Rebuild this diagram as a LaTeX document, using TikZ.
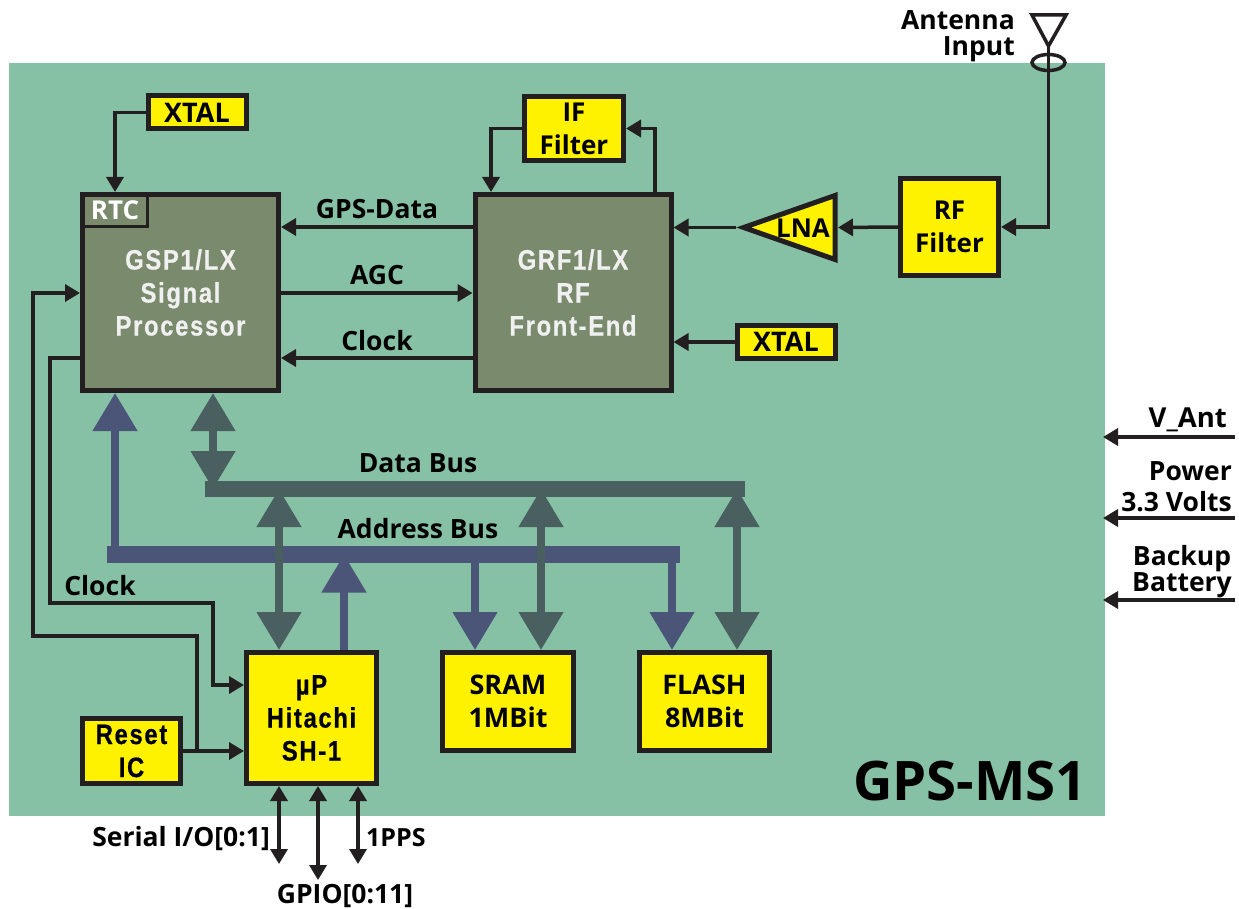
\documentclass[tikz,border=0pt]{standalone}
\usepackage{fontspec}
\usetikzlibrary{arrows.meta,shapes.geometric}
\newfontfamily\opb{Open Sans}
\newfontfamily\libs[LetterSpace=6,FakeStretch=0.85,BoldFeatures={FakeBold=0.6}]{Liberation Sans}
\definecolor{bgc}{HTML}{86C1A5}
\definecolor{chipc}{HTML}{7A8A6D}
\definecolor{datac}{HTML}{4A6060}
\definecolor{addrc}{HTML}{4B5578}
\definecolor{inkc}{HTML}{231F20}
\tikzset{
 x=1pt,y=-1pt,
 box/.style={draw=inkc,line width=5pt,fill=#1,inner sep=0pt,align=center,miter limit=10},
 box/.default={yellow},
 opf/.style={font=\opb\bfseries\fontsize{#1}{33}\selectfont},
 opf/.default={26},
 lif/.style={font=\libs\bfseries\fontsize{28}{33}\selectfont},
 lab/.style={inner sep=0pt,text=black,opf=26.5},
 rlab/.style={inner sep=0pt,text=black,align=#1,font=\opb\bfseries\fontsize{26.5}{26}\selectfont},
 conn/.style={draw=inkc,line width=3.5pt},
 sig/.style={conn,-{Triangle[width=17pt,length=15pt]}},
 sigb/.style={conn,{Triangle[width=17pt,length=15pt]}-{Triangle[width=17pt,length=15pt]}},
 dbarrow/.style={draw=datac,line width=8pt,{Triangle[width=43pt,length=38pt]}-{Triangle[width=43pt,length=38pt]}},
 abarrow/.style={draw=addrc,line width=8pt,-{Triangle[width=43pt,length=38pt]}},
}
\begin{document}
\begin{tikzpicture}
\useasboundingbox (0,0) rectangle (1239,909);
\node[fill=bgc,inner sep=0pt,minimum width=1096pt,minimum height=753pt] (bg) at (557,439.5) {};

% boxes
\node[box=chipc,minimum width=196pt,minimum height=196pt,text=white!94!black,lif] (gsp) at (180.5,292.5) {GSP1/LX\\Signal\\Processor};
\node[draw=inkc,line width=3pt,fill=chipc,inner sep=0pt,minimum width=65pt,minimum height=32pt,text=white,font=\opb\bfseries\fontsize{26}{28}\selectfont] (rtc) at (115,210.5) {RTC};
\draw[draw=inkc,line width=5pt] (gsp.north west) ++(2.5,2.5) rectangle ([xshift=-2.5pt,yshift=2.5pt]gsp.south east);
\node[box=chipc,minimum width=196pt,minimum height=196pt,text=white!94!black,lif] (grf) at (573,292.5) {GRF1/LX\\RF\\Front-End};
\node[box,minimum width=98pt,minimum height=33pt,opf=27] (xtala) at (197,112.5) {XTAL};
\node[box,minimum width=98pt,minimum height=33pt,opf=27] (xtalb) at (786,342) {XTAL};
\node[box,minimum width=99pt,minimum height=64pt,opf=26] (iff) at (574,128.5) {IF\\Filter};
\node[box,minimum width=98pt,minimum height=97pt,opf=26] (rff) at (949.5,227) {RF\\Filter};
\node[box,minimum width=130pt,minimum height=131pt,lif] (up) at (311.5,718) {\textmu P\\Hitachi\\SH-1};
\node[box,minimum width=98pt,minimum height=65pt,lif] (rst) at (131.5,751) {Reset\\IC};
\node[box,minimum width=131pt,minimum height=98pt,opf=27] (sram) at (508,701.5) {SRAM\\1MBit};
\node[box,minimum width=130pt,minimum height=98pt,opf=27] (flash) at (704.5,701.5) {FLASH\\8MBit};

% LNA
\coordinate (lnatip) at (736,227.5);
\coordinate (lnaend) at (838,227.5);
\draw[draw=inkc,line width=5pt,fill=yellow,miter limit=10] (743.7,227.5) -- (835,195.5) -- (835,259.5) -- cycle;
\node[inner sep=0pt,opf=26] (lna) at (803,228) {LNA};

% antenna
\draw[draw=inkc,line width=3.5pt,miter limit=10] (1032,15) -- (1066,15) -- (1048.5,46) -- cycle;
\node[draw=inkc,line width=3.5pt,ellipse,minimum width=33pt,minimum height=16pt,inner sep=0pt] (ant) at (1048.5,62.5) {};
\coordinate (anttop) at (1048.5,44);

% buses
\node[fill=addrc,inner sep=0pt,minimum width=573pt,minimum height=17pt] (abus) at (393.5,554.5) {};
\node[fill=datac,inner sep=0pt,minimum width=540pt,minimum height=16pt] (dbus) at (475,489) {};

% bus arrows
\draw[abarrow] (115,0 |- abus.center) -- (115,0 |- gsp.south);
\draw[abarrow] (344,0 |- up.north) -- (344,0 |- abus.center);
\draw[abarrow] (475,0 |- abus.center) -- (475,0 |- sram.north);
\draw[abarrow] (672,0 |- abus.center) -- (672,0 |- flash.north);
\draw[dbarrow] (213,0 |- gsp.south) -- (213,0 |- dbus.center);
\draw[dbarrow] (279,0 |- dbus.center) -- (279,0 |- up.north);
\draw[dbarrow] (541,0 |- dbus.center) -- (541,0 |- sram.north);
\draw[dbarrow] (737,0 |- dbus.center) -- (737,0 |- flash.north);

% thin connectors
\draw[sig] (xtala.west) -| (115,0 |- gsp.north);
\draw[sig] (grf.west |- 0,227) -- (gsp.east |- 0,227);
\draw[sig] (gsp.east |- 0,293) -- (grf.west |- 0,293);
\draw[sig] (grf.west |- 0,358) -- (gsp.east |- 0,358);
\draw[sig] (lnatip) -- (grf.east |- lnatip);
\draw[sig] (rff.west) -- (lnaend);
\draw[conn] (anttop) -- (ant.center);
\draw[sig] (ant.center) |- (rff.east);
\draw[sig] (xtalb.west) -- (grf.east |- xtalb.west);
\draw[sig] (iff.west) -| (491,0 |- grf.north);
\draw[sig] (655,0 |- grf.north) |- (iff.east);
\draw[sig] (gsp.west |- 0,358) -| (50,603) -| (213,685) -- (up.west |- 0,685);
\draw[sig] (rst.east) -- (up.west |- rst.east);
\coordinate (rstjoin) at (197,0 |- rst.east);
\draw[sig] (rstjoin) |- (33,636) |- (gsp.west |- 0,293);

% bottom I/O
\coordinate (ioa) at (279,864);
\coordinate (iob) at (318,880);
\coordinate (ioc) at (358,864);
\draw[sigb] (279,0 |- up.south) -- (ioa);
\draw[sigb] (318,0 |- up.south) -- (iob);
\draw[sigb] (358,0 |- up.south) -- (ioc);

% right inputs
\coordinate (ina) at (1235,437);
\coordinate (inb) at (1235,518);
\coordinate (inc) at (1235,600);
\coordinate (bgr) at (1103,0);
\draw[sig] (ina) -- (bgr |- ina);
\draw[sig] (inb) -- (bgr |- inb);
\draw[sig] (inc) -- (bgr |- inc);

% labels
\node[lab] (lgps) at (377,209) {GPS-Data};
\node[lab] (lagc) at (377,275) {AGC};
\node[lab] (lclk) at (377,341) {Clock};
\node[lab] (ldat) at (418,463) {Data Bus};
\node[lab] (ladr) at (418,529) {Address Bus};
\node[lab] (lcl2) at (100,586) {Clock};
\node[lab,anchor=east] (lser) at (270,839) {Serial I/O[0:1]};
\node[lab,anchor=west,opf=25] (lpps) at (366,838) {1PPS};
\node[lab] (lgpio) at (345,896) {GPIO[0:11]};
\node[rlab=right,anchor=east] (lant) at (1015,36) {Antenna\\Input};
\node[rlab=right,anchor=east,font=\opb\bfseries\fontsize{27.5}{26}\selectfont] (lva) at (1227,420) {V\_Ant};
\node[rlab=right,anchor=east,font=\opb\bfseries\fontsize{26.5}{31}\selectfont] (lpw) at (1232,487) {Power\\3.3 Volts};
\node[rlab=center,anchor=east] (lbk) at (1232,572) {Backup\\Battery};
\node[inner sep=0pt,anchor=east,font=\opb\bfseries\fontsize{54.5}{60}\selectfont] (ltitle) at (1087,781) {GPS-MS1};
\end{tikzpicture}
\end{document}
